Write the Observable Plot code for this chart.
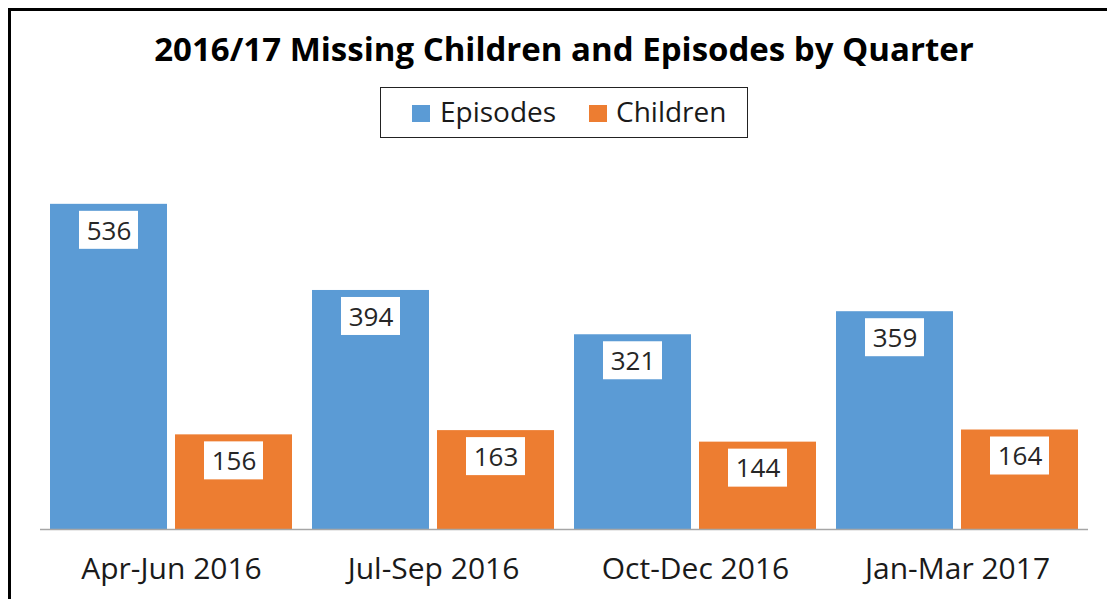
<!DOCTYPE html>
<html>
<head>
<meta charset="utf-8">
<script src="https://cdn.jsdelivr.net/npm/d3@7"></script>
<script src="https://cdn.jsdelivr.net/npm/@observablehq/plot@0.6"></script>
<style>
  html, body { margin: 0; padding: 0; background: #fff; overflow: hidden; }
  #wrap { position: relative; width: 1107px; height: 599px; font-family: "Open Sans", Lato, sans-serif; }
  #frame { position: absolute; left: 8px; top: 8px; width: 1200px; height: 700px; border-top: 3px solid #000; border-left: 3px solid #000; }
  #chart { position: absolute; left: 0; top: 0; }
  #title { position: absolute; left: 0; top: 32px; width: 1128px; text-align: center; font-weight: bold; font-size: 33px; line-height: 1; color: #000; }
  #legend { position: absolute; left: 380px; top: 87px; width: 366px; height: 49px; border: 1px solid #222; background: #fff; }
  .sw { position: absolute; top: 17px; width: 18px; height: 17px; }
  .lt { position: absolute; top: 9px; font-size: 28px; line-height: 1; color: #1a1a1a; white-space: nowrap; }
</style>
</head>
<body>
<div id="wrap">
  <div id="frame"></div>
  <div id="chart"></div>
  <div id="title"></div>
  <div id="legend"></div>
</div>
<script>
const title = "2016/17 Missing Children and Episodes by Quarter";
const quarters = ["Apr-Jun 2016", "Jul-Sep 2016", "Oct-Dec 2016", "Jan-Mar 2017"];
const seriesNames = ["Episodes", "Children"];
const episodes = [536, 394, 321, 359];
const children = [156, 163, 144, 164];
const colors = ["#5b9bd5", "#ed7d31"];

const data = quarters.flatMap((q, i) => [
  {quarter: q, series: seriesNames[0], value: episodes[i]},
  {quarter: q, series: seriesNames[1], value: children[i]}
]);

const chart = Plot.plot({
  width: 1107,
  height: 599,
  marginLeft: 40,
  marginRight: 19,
  marginTop: 165,
  marginBottom: 70,
  style: {fontFamily: "'Open Sans', Lato, sans-serif", background: "transparent", color: "#1a1a1a"},
  fx: {domain: quarters, padding: 0, label: null},
  x: {domain: seriesNames, axis: null, paddingInner: 0.0637, paddingOuter: 0.0757},
  y: {domain: [0, 600], axis: null},
  color: {domain: seriesNames, range: colors},
  marks: [
    Plot.barY(data, {fx: "quarter", x: "series", y: "value", fill: "series"}),
    Plot.ruleY([0], {stroke: "#a6a6a6", strokeWidth: 1.5}),
    Plot.barY(data, {fx: "quarter", x: "series", y1: "value", y2: "value", fill: "white",
      insetTop: 7, insetBottom: -45, insetLeft: 29, insetRight: 29}),
    Plot.text(data, {fx: "quarter", x: "series", y: "value", text: d => String(d.value),
      dy: 27, fontSize: 26, fill: "#262626"}),
    Plot.axisFx({anchor: "bottom", tickSize: 0, tickPadding: 28, fontSize: 30, label: null, color: "#1a1a1a"})
  ]
});
document.getElementById("chart").appendChild(chart);
document.getElementById("title").textContent = title;

const legend = document.getElementById("legend");
const sw = [31, 208], lt = [59, 235];
seriesNames.forEach((s, i) => {
  const b = document.createElement("div");
  b.className = "sw"; b.style.left = sw[i] + "px"; b.style.background = colors[i];
  legend.appendChild(b);
  const t = document.createElement("div");
  t.className = "lt"; t.style.left = lt[i] + "px"; t.textContent = s;
  legend.appendChild(t);
});
</script>
</body>
</html>
